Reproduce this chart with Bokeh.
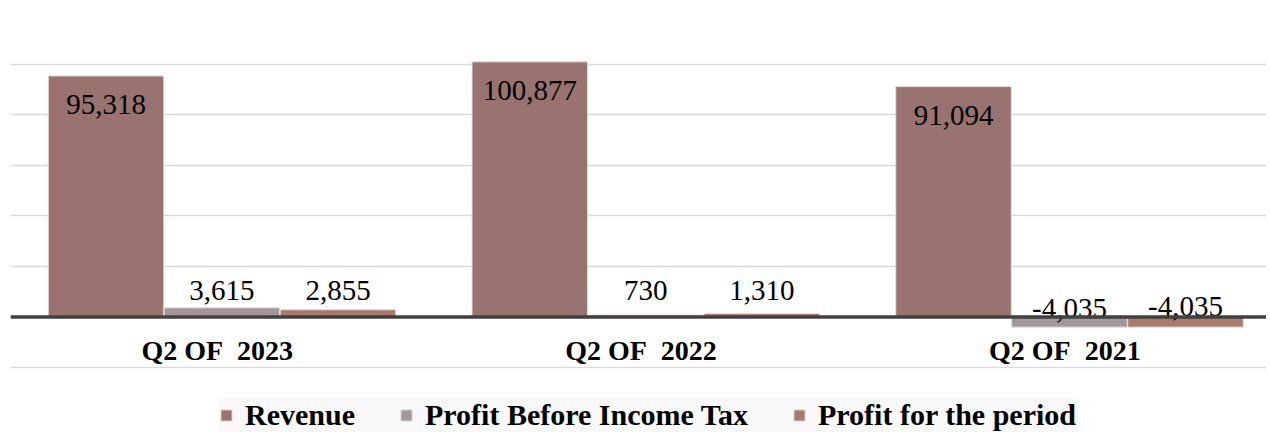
from bokeh.plotting import figure
from bokeh.models import FactorRange, Range1d, Legend, LegendItem, ColumnDataSource, FixedTicker, Span
from bokeh.transform import dodge
from bokeh.core.properties import value
from bokeh.embed import file_html
from bokeh.resources import INLINE

categories = ["Q2 OF  2023", "Q2 OF  2022", "Q2 OF  2021"]
revenue = [95318, 100877, 91094]
profit_before_tax = [3615, 730, -4035]
profit_period = [2855, 1310, -4035]
series_names = ["Revenue", "Profit Before Income Tax", "Profit for the period"]
colors = ["#987370", "#A39899", "#A87B6C"]
grid_ticks = [-20000, 0, 20000, 40000, 60000, 80000, 100000, 120000]

FONT = "Liberation Serif"

p = figure(width=1266, height=434,
           x_range=FactorRange(*categories, range_padding=-0.018, range_padding_units="absolute"),
           y_range=Range1d(-46500, 120000), output_backend="svg",
           toolbar_location=None, min_border_left=10, min_border_right=0,
           min_border_top=13, min_border_bottom=0, title=None)
p.outline_line_color = None
p.background_fill_color = "white"
p.border_fill_color = "white"

src = ColumnDataSource(dict(
    cat=categories,
    cat_lbl=[c.replace("  ", "\u00a0\u00a0") for c in categories],
    rev=revenue,
    pbt=profit_before_tax,
    pfp=profit_period,
    rev_lbl=[f"{v:,}" for v in revenue],
    pbt_lbl=[f"{v:,}" for v in profit_before_tax],
    pfp_lbl=[f"{v:,}" for v in profit_period],
    zero=[0 for _ in categories],
    pbt_off=[-26 if v >= 0 else -8 for v in profit_before_tax],
    pfp_off=[-26 if v >= 0 else -10 for v in profit_period],
))

W = 0.2726
offsets = [-0.2566, 0.017, 0.2909]
fields = ["rev", "pbt", "pfp"]
renderers = []
for f, off, c in zip(fields, offsets, colors):
    r = p.vbar(x=dodge("cat", off, range=p.x_range), top=f, bottom=0, width=W,
               source=src, fill_color=c, line_color="#EADCDB", line_width=1)
    renderers.append(r)

# axes
p.yaxis.visible = False
p.xaxis.visible = False
p.xgrid.visible = False
p.ygrid.ticker = FixedTicker(ticks=grid_ticks)
p.ygrid.grid_line_color = "#D9D9D9"
p.ygrid.grid_line_width = 1.5

zero_line = Span(location=0, dimension="width", line_color="#404040", line_width=3.5)
p.add_layout(zero_line)

# labels
p.text(x=dodge("cat", offsets[0], range=p.x_range), y="rev", text="rev_lbl", source=src,
       text_align="center", text_baseline="middle", y_offset=29,
       text_font=value(FONT), text_font_size="29px", text_color="#000000")
p.text(x=dodge("cat", offsets[1], range=p.x_range), y="zero", text="pbt_lbl", source=src,
       text_align="center", text_baseline="middle", y_offset="pbt_off",
       text_font=value(FONT), text_font_size="29px", text_color="#000000")
p.text(x=dodge("cat", offsets[2], range=p.x_range), y="zero", text="pfp_lbl", source=src,
       text_align="center", text_baseline="middle", y_offset="pfp_off",
       text_font=value(FONT), text_font_size="29px", text_color="#000000")
p.text(x=dodge("cat", 0.006, range=p.x_range), y="zero", text="cat_lbl", source=src,
       text_align="center", text_baseline="middle", y_offset=34,
       text_font=value(FONT), text_font_style="bold", text_font_size="28px",
       text_color="#000000")

legend = Legend(items=[LegendItem(label=n, renderers=[r]) for n, r in zip(series_names, renderers)],
                orientation="horizontal", location=(209, 2),
                glyph_width=14, glyph_height=14, label_standoff=12, spacing=44,
                padding=3, margin=0, background_fill_color="#F8F8F8",
                background_fill_alpha=1.0, border_line_color=None,
                label_text_font=FONT, label_text_font_style="bold",
                label_text_font_size="30px", label_text_color="#000000")
p.add_layout(legend)

open("out.html", "w").write(file_html(p, INLINE))
